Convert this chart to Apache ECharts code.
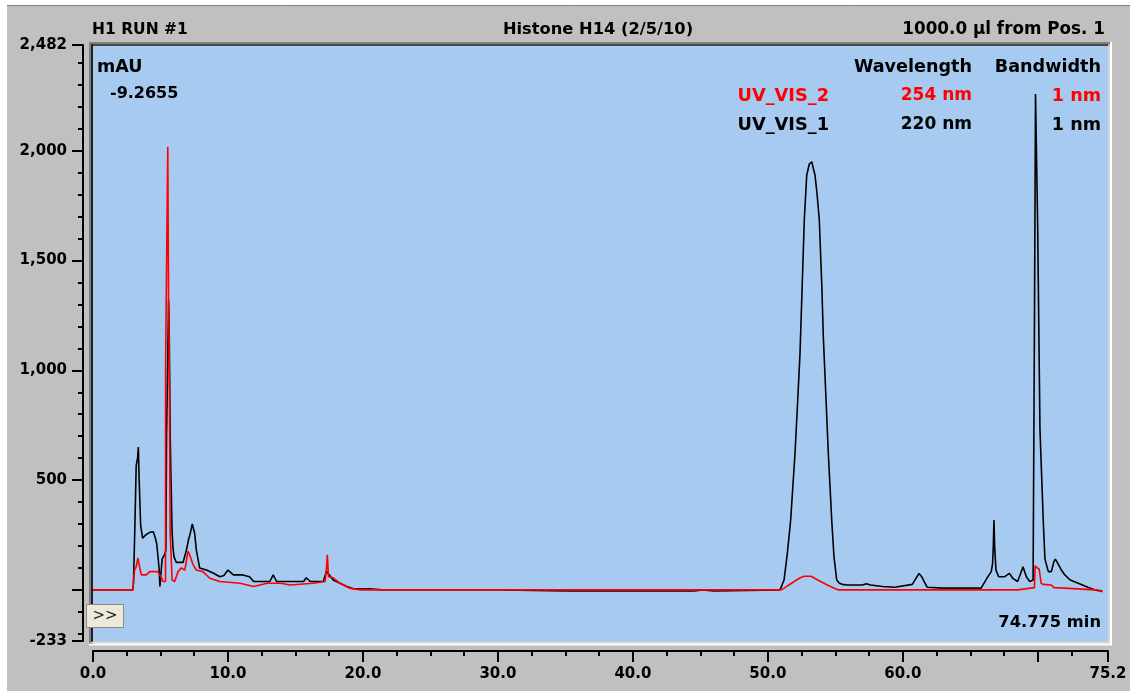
<!DOCTYPE html>
<html><head><meta charset="utf-8">
<script src="https://cdn.jsdelivr.net/npm/echarts@6/dist/echarts.min.js"></script>
<style>html,body{margin:0;padding:0;background:#C0C0C0;overflow:hidden}#c{width:1130px;height:691px}</style>
</head><body><div id="c"></div>
<script>
// UV_VIS_1 (220 nm, black): [time (min), absorbance (mAU)]
const uv1Points = [
 [0,0],[2.95,0],[3.0,35],[3.1,280],[3.18,285],[3.2,565],[3.3,600],[3.36,650],[3.42,500],[3.5,495],[3.53,295],[3.68,235],[3.9,250],[4.2,262],[4.47,265],[4.6,240],[4.72,210],[4.84,135],[4.9,95],[4.96,15],[5.05,20],[5.12,140],[5.21,150],[5.33,165],[5.4,180],[5.45,700],[5.55,1100],[5.6,1318],[5.64,1224],[5.72,700],[5.78,505],[5.83,500],[5.86,264],[5.93,190],[6.0,150],[6.17,125],[6.67,125],[6.92,180],[7.1,235],[7.16,245],[7.36,300],[7.45,295],[7.53,258],[7.66,180],[7.9,100],[8.4,90],[8.9,77],[9.4,60],[9.7,65],[10.0,90],[10.4,68],[11.1,68],[11.6,60],[11.9,38],[13.1,38],[13.35,68],[13.6,38],[15.6,38],[15.8,55],[16.1,38],[17.06,38],[17.3,85],[17.8,45],[18.3,30],[18.8,15],[19.3,5],[20.45,5],[20.5,0],[21.4,0],[21.5,5],[21.6,0],[30.2,0],[30.3,-5],[35.2,-5],[35.3,0],[35.4,-5],[44.5,-5],[44.6,0],[45.2,0],[45.25,-5],[46.0,-5],[46.1,0],[50.9,0],
 [51.0,8],[51.2,45],[51.45,170],[51.69,318],[52.01,621],[52.2,850],[52.38,1075],[52.55,1400],[52.7,1686],[52.88,1890],[53.07,1940],[53.25,1950],[53.49,1890],[53.65,1800],[53.81,1686],[54.0,1380],[54.11,1151],[54.3,880],[54.48,621],[54.73,318],[54.9,150],[55.1,45],[55.3,30],[55.5,25],[55.9,22],[57.0,22],[57.3,28],[57.6,22],[58.5,15],[59.4,12],[60.7,25],[61.0,55],[61.2,75],[61.4,60],[61.6,35],[61.8,12],[63.0,8],[65.8,8],[66.3,60],[66.55,83],[66.65,120],[66.7,196],[66.75,318],[66.8,200],[66.9,90],[67.1,60],[67.55,60],[67.9,75],[68.15,52],[68.5,38],[68.7,70],[68.9,105],[69.15,60],[69.4,38],[69.65,45],[69.72,40],[69.75,1197],[69.82,1197],[69.83,2259],[69.95,2259],[69.99,1652],[70.16,730],[70.41,303],[70.53,140],[70.78,83],[71.0,83],[71.2,130],[71.3,140],[71.5,118],[71.7,95],[72.0,68],[72.4,45],[73.0,30],[73.7,12],[74.2,0],[74.78,-5]
];
// UV_VIS_2 (254 nm, red)
const uv2Points = [
 [0,0],[2.95,0],[3.0,8],[3.08,90],[3.2,105],[3.33,145],[3.4,140],[3.45,105],[3.58,68],[3.95,68],[4.2,83],[4.8,83],[4.9,72],[5.06,58],[5.18,38],[5.37,38],[5.38,1035],[5.52,1035],[5.54,2018],[5.6,1300],[5.63,1200],[5.72,260],[5.86,45],[6.05,38],[6.3,83],[6.55,100],[6.8,90],[7.04,175],[7.16,160],[7.41,115],[7.66,90],[8.15,83],[8.65,53],[9.4,38],[10.9,30],[11.9,15],[12.9,30],[13.9,30],[14.6,22],[16.3,30],[17.2,38],[17.3,100],[17.36,160],[17.45,60],[17.8,55],[18.3,30],[19.0,8],[19.8,0],[50.9,0],
 [51.1,3],[51.5,20],[51.95,38],[52.4,55],[52.7,62],[53.2,62],[53.7,45],[54.4,22],[55.0,5],[55.2,0],[68.5,0],[68.6,8],[69.75,10],[69.8,110],[69.9,110],[69.95,100],[70.1,95],[70.25,30],[70.4,25],[71.0,22],[71.2,10],[72.0,8],[74.2,0],[74.8,-8]
];
const yLabelValues = [-233, 500, 1000, 1500, 2000, 2482];
const yMajorTicks = [-233, 0, 500, 1000, 1500, 2000, 2482];
const yMinorTicks = [-200,-100,100,200,300,400,600,700,800,900,1100,1200,1300,1400,1600,1700,1800,1900,2100,2200,2300,2400];
const xLabelValues = [0, 10, 20, 30, 40, 50, 60, 75.2];
const xMajorTicks = [0, 10, 20, 30, 40, 50, 60, 70, 75.2];
const xMinorTicks = [2.5,5,7.5,12.5,15,17.5,22.5,25,27.5,32.5,35,37.5,42.5,45,47.5,52.5,55,57.5,62.5,65,67.5,72.5];

const FF = '"DejaVu Sans", sans-serif';
const chart = echarts.init(document.getElementById('c'), null, {renderer: 'canvas'});
const fmtY = v => { const n = Math.round(v); const s = String(Math.abs(n)).replace(/\B(?=(\d{3})+(?!\d))/g, ','); return (n < 0 ? '-' : '') + s; };
const lbl = {color:'#000', fontFamily: FF, fontWeight:'bold', fontSize:15};
const GL = 93, GT = 45, GR = 1108, GB = 641;
function txt(x, y, text, align, color, size, weight) {
  return {type:'text', z:100, x:x, y:y, style:{text:text, fill:color||'#000', font:(weight||'bold')+' '+(size||16)+'px '+FF, textAlign:align||'left', textVerticalAlign:'middle'}};
}
function ln(x1,y1,x2,y2,c,w){ return {type:'line', z:90, shape:{x1:x1,y1:y1,x2:x2,y2:y2}, style:{stroke:c, lineWidth:w||1}}; }

chart.setOption({
  animation:false,
  backgroundColor:'#C0C0C0',
  grid:{left:GL, top:GT, width:GR-GL, height:GB-GT, show:true, backgroundColor:'#A6CAF0', borderWidth:0},
  xAxis:[
    {type:'value', min:0, max:75.2, position:'bottom', offset:10,
     axisLine:{show:true, onZero:false, lineStyle:{color:'#000', width:2}},
     axisTick:{show:true, inside:false, length:11, customValues:xMajorTicks, lineStyle:{color:'#000', width:2}},
     axisLabel:Object.assign({customValues:xLabelValues, margin:16, formatter:v=>Number(v).toFixed(1)}, lbl),
     splitLine:{show:false}},
    {type:'value', min:0, max:75.2, position:'bottom', offset:10,
     axisLine:{show:false, onZero:false},
     axisTick:{show:true, inside:false, length:5, customValues:xMinorTicks, lineStyle:{color:'#000', width:2}},
     axisLabel:{show:false}, splitLine:{show:false}}
  ],
  yAxis:[
    {type:'value', min:-233, max:2482, position:'left', offset:10,
     axisLine:{show:true, onZero:false, lineStyle:{color:'#000', width:2}},
     axisTick:{show:true, inside:false, length:11, customValues:yMajorTicks, lineStyle:{color:'#000', width:2}},
     axisLabel:Object.assign({customValues:yLabelValues, margin:16, formatter:fmtY}, lbl),
     splitLine:{show:false}},
    {type:'value', min:-233, max:2482, position:'left', offset:10,
     axisLine:{show:false, onZero:false},
     axisTick:{show:true, inside:false, length:5, customValues:yMinorTicks, lineStyle:{color:'#000', width:2}},
     axisLabel:{show:false}, splitLine:{show:false}}
  ],
  series:[
    {name:'UV_VIS_1', type:'line', xAxisIndex:0, yAxisIndex:0, data:uv1Points, symbol:'none', showSymbol:false, lineStyle:{color:'#000000', width:1.6}, z:2, clip:true},
    {name:'UV_VIS_2', type:'line', xAxisIndex:0, yAxisIndex:0, data:uv2Points, symbol:'none', showSymbol:false, lineStyle:{color:'#FF0000', width:1.6}, z:3, clip:true}
  ],
  graphic:[
    {type:'rect', z:80, shape:{x:0,y:0,width:1130,height:5}, style:{fill:'#FFFFFF'}},
    {type:'rect', z:80, shape:{x:0,y:0,width:7,height:691}, style:{fill:'#FFFFFF'}},
    ln(7,5.5,1130,5.5,'#808080',1),
    // sunken plot frame
    ln(90,42,90,645,'#808080',2),
    ln(92,43,92,644,'#202020',2),
    ln(89,43,1112,43,'#808080',2),
    ln(91,45,1110,45,'#202020',1.5),
    ln(91,642.5,1110,642.5,'#E0E0E0',1.5),
    ln(89,644.5,1112,644.5,'#FFFFFF',2),
    ln(1109,44,1109,643,'#E0E0E0',1.5),
    ln(1111,42,1111,645,'#FFFFFF',2),
    // header
    txt(92,30,'H1 RUN #1','left',null,15.5),
    txt(598,30,'Histone H14 (2/5/10)','center',null,16.3),
    txt(1105,30,'1000.0 µl from Pos. 1','right',null,16.8),
    // inside plot
    txt(97,67,'mAU','left',null,17.5),
    txt(110,94,'-9.2655','left'),
    txt(972,67,'Wavelength','right',null,17.6),
    txt(1101,67,'Bandwidth','right',null,17.6),
    txt(829,96,'UV_VIS_2','right','#FF0000',17.8),
    txt(972,96,'254 nm','right','#FF0000',17),
    txt(1101,96,'1 nm','right','#FF0000',17.6),
    txt(829,125,'UV_VIS_1','right',null,17.8),
    txt(972,125,'220 nm','right',null,17),
    txt(1101,125,'1 nm','right',null,17.6),
    txt(1101,623,'74.775 min','right',null,16.3),
    // ">>" button
    {type:'rect', z:95, shape:{x:86.5,y:604.5,width:37,height:23}, style:{fill:'#ECE9D8', stroke:'#8C8C8C', lineWidth:1}},
    ln(87,605,122,605,'#FFFFFF',1), ln(87,605,87,627,'#FFFFFF',1),
    txt(105,616,'>>','center','#202020',15,'normal')
  ]
});
</script></body></html>
